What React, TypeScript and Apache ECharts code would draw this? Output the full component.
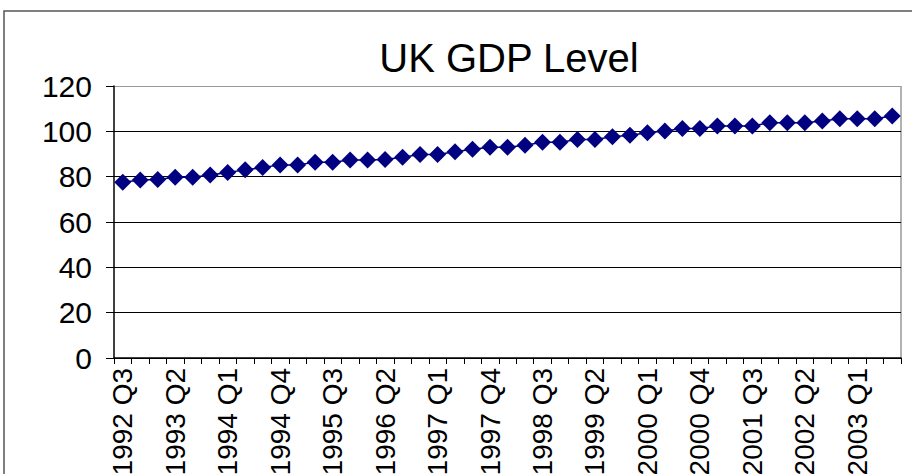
import React, { useEffect, useRef } from "react";
import * as echarts from "echarts";

const categories = [
  "1992 Q3", "1992 Q4",
  "1993 Q1", "1993 Q2", "1993 Q3", "1993 Q4",
  "1994 Q1", "1994 Q2", "1994 Q3", "1994 Q4",
  "1995 Q1", "1995 Q2", "1995 Q3", "1995 Q4",
  "1996 Q1", "1996 Q2", "1996 Q3", "1996 Q4",
  "1997 Q1", "1997 Q2", "1997 Q3", "1997 Q4",
  "1998 Q1", "1998 Q2", "1998 Q3", "1998 Q4",
  "1999 Q1", "1999 Q2", "1999 Q3", "1999 Q4",
  "2000 Q1", "2000 Q2", "2000 Q3", "2000 Q4",
  "2001 Q1", "2001 Q2", "2001 Q3", "2001 Q4",
  "2002 Q1", "2002 Q2", "2002 Q3", "2002 Q4",
  "2003 Q1", "2003 Q2", "2003 Q3",
];

const gdpLevel = [
  77.5, 78.5, 78.8, 79.7, 79.7, 80.7, 81.8, 83.0, 84.0, 85.2,
  85.2, 86.4, 86.4, 87.4, 87.4, 87.6, 88.6, 89.8, 89.8, 91.0,
  92.1, 93.0, 93.0, 93.9, 95.2, 95.2, 96.4, 96.4, 97.6, 98.3,
  99.4, 100.1, 101.2, 101.2, 102.4, 102.4, 102.4, 103.8, 103.8, 103.8,
  104.6, 105.6, 105.6, 105.6, 106.8,
];

const yMin = 0;
const yMax = 120;
const yStep = 20;

const title = "UK GDP Level";
const font = "'Liberation Sans', Arial, Helvetica, sans-serif";

export default function App() {
  const ref = useRef<HTMLDivElement>(null);

  useEffect(() => {
    if (!ref.current) return;
    const chart = echarts.init(ref.current, undefined, { renderer: "svg" });
    chart.setOption({
      animation: false,
      backgroundColor: "#ffffff",
      title: {
        text: title,
        left: 504,
        textAlign: "center",
        top: 33,
        textStyle: { fontFamily: font, fontSize: 40, fontWeight: "normal", color: "#000" },
      },
      graphic: [
        {
          type: "rect",
          shape: { x: 4, y: 11, width: 1000, height: 1000 },
          style: { fill: "none", stroke: "#555", lineWidth: 1.5 },
          z: -10,
        },
        {
          type: "line",
          shape: { x1: 901, y1: 86, x2: 901, y2: 358 },
          style: { stroke: "#999", lineWidth: 1.5 },
        },
      ],
      grid: { left: 114, right: 11, top: 86, bottom: 116, outerBoundsMode: "none", containLabel: false },
      xAxis: {
        type: "category",
        data: categories,
        boundaryGap: true,
        axisLine: { lineStyle: { color: "#000", width: 1.5 } },
        axisTick: { show: true, interval: 0, length: 6, lineStyle: { color: "#000" } },
        axisLabel: {
          interval: 2,
          rotate: 90,
          margin: 10,
          fontFamily: font,
          fontSize: 28,
          color: "#000",
        },
        splitLine: { show: false },
      },
      yAxis: {
        type: "value",
        min: yMin,
        max: yMax,
        interval: yStep,
        axisLine: { show: true, lineStyle: { color: "#000", width: 1.5 } },
        axisTick: { show: true, length: 8, lineStyle: { color: "#000" } },
        axisLabel: { margin: 22, fontFamily: font, fontSize: 30, color: "#000" },
        splitLine: {
          show: true,
          lineStyle: { color: ["#000", "#000", "#000", "#000", "#000", "#000", "#999"], width: 1.2 },
        },
      },
      series: [
        {
          type: "line",
          data: gdpLevel,
          symbol: "diamond",
          symbolSize: 17,
          showSymbol: true,
          showAllSymbol: true,
          itemStyle: { color: "#000080" },
          lineStyle: { color: "#000080", width: 1.5 },
        },
      ],
    });
    return () => chart.dispose();
  }, []);

  return (
    <div
      ref={ref}
      style={{ position: "absolute", left: 0, top: 0, width: 912, height: 474 }}
    />
  );
}
